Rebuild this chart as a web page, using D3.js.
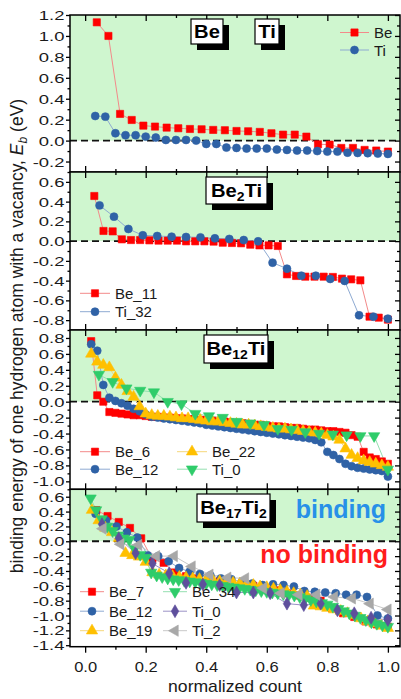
<!DOCTYPE html>
<html>
<head>
<meta charset="utf-8">
<script src="https://cdn.jsdelivr.net/npm/d3@7"></script>
<style>
  body { margin: 0; background: #fff; }
  svg { display: block; font-family: "Liberation Sans", Arial, sans-serif; }
  .axis path, .axis line { stroke: #000; stroke-width: 1.3; }
  .axis text { fill: #1a1a1a; font-family: "Liberation Sans", Arial, sans-serif; }
</style>
</head>
<body>
<svg id="chart" width="401" height="699"></svg>
<script>
// ---- data (binding energies in eV, sorted) ----
// panel 1: Be / Ti
const beTiBe = [1.13, 1.00, 0.255, 0.197, 0.143, 0.134, 0.124, 0.118, 0.111, 0.108, 0.102, 0.099, 0.092,
  0.089, 0.083, 0.070, 0.057, 0.057, 0.038, -0.035, -0.038, -0.070, -0.070, -0.089, -0.095, -0.105];
const beTiTi = [0.235, 0.229, 0.070, 0.051, 0.051, 0.038, 0.029, 0.006, 0.006, 0.006, 0.0, -0.032, -0.032,
  -0.067, -0.070, -0.076, -0.076, -0.076, -0.086, -0.089, -0.095, -0.095, -0.100, -0.105, -0.105, -0.115,
  -0.118, -0.120, -0.124, -0.127];

// panel 2: Be2Ti
const be2TiBe11 = [0.457, 0.103, 0.099, 0.018, 0.011, 0.011, 0.008, 0.005, 0.005, 0.005, -0.002, -0.002,
  -0.002, -0.005, -0.016, -0.019, -0.022, -0.036, -0.043, -0.043, -0.049, -0.336, -0.353, -0.360, -0.360,
  -0.360, -0.363, -0.380, -0.387, -0.397, -0.765, -0.775, -0.795];
const be2TiTi32 = [0.362, 0.248, 0.123, 0.059, 0.052, 0.045, 0.042, 0.038, 0.028, 0.022, 0.011, -0.002,
  -0.218, -0.279, -0.350, -0.350, -0.383, -0.403, -0.751, -0.765, -0.785];

// panel 3: Be12Ti
const be12TiBe6 = [0.76, 0.08, 0.00, -0.13, -0.14, -0.15, -0.16, -0.17, -0.17, -0.18,
  -0.19, -0.19, -0.20, -0.20, -0.21, -0.21, -0.22, -0.22, -0.23, -0.23, -0.24, -0.25, -0.25, -0.26,
  -0.27, -0.27, -0.28, -0.29, -0.29, -0.30, -0.31, -0.31, -0.32, -0.33, -0.33, -0.34, -0.35, -0.35,
  -0.36, -0.37, -0.37, -0.38, -0.39, -0.42, -0.44, -0.63, -0.70, -0.72, -0.75, -0.78];
const be12TiBe12 = [0.72, 0.64, 0.21, 0.05, 0.01, -0.02, -0.05, -0.09, -0.12, -0.16, -0.19,
  -0.20, -0.21, -0.22, -0.23, -0.24, -0.25, -0.26, -0.27, -0.29, -0.30, -0.31, -0.32, -0.33, -0.34,
  -0.35, -0.36, -0.37, -0.38, -0.39, -0.40, -0.41, -0.42, -0.43, -0.44, -0.45, -0.46, -0.48, -0.51,
  -0.63, -0.67, -0.72, -0.78, -0.81, -0.83, -0.84, -0.85, -0.86, -0.87, -0.94];
const be12TiBe22 = [0.60, 0.50, 0.46, 0.43, 0.30, 0.21, 0.13, 0.06, -0.06, -0.15, -0.17,
  -0.18, -0.18, -0.19, -0.20, -0.21, -0.21, -0.22, -0.23, -0.24, -0.25, -0.25, -0.26, -0.27, -0.28,
  -0.29, -0.29, -0.30, -0.31, -0.32, -0.33, -0.34, -0.34, -0.35, -0.36, -0.37, -0.38, -0.39, -0.40,
  -0.42, -0.44, -0.48, -0.59, -0.67, -0.71, -0.74, -0.76, -0.78, -0.80, -0.82];
const be12TiTi0 = [0.34, 0.25, 0.17, 0.14, 0.12, 0.00, -0.03, -0.15, -0.18, -0.20, -0.25, -0.27,
  -0.29, -0.34, -0.35, -0.38, -0.40, -0.41, -0.42, -0.43, -0.43, -0.85];

// panel 4: Be17Ti2
const be17Ti2Be7 = [0.42, 0.34, 0.26, 0.18, 0.04, -0.24, -0.29, -0.42, -0.47, -0.50, -0.52, -0.54,
  -0.56, -0.58, -0.60, -0.63, -0.66, -0.70, -0.73, -0.76, -0.80, -0.90, -0.97, -1.02, -1.08, -1.12, -1.15];
const be17Ti2Be12 = [0.37, 0.28, 0.20, 0.12, 0.05, -0.19, -0.20, -0.27, -0.36, -0.41, -0.44, -0.46,
  -0.50, -0.51, -0.55, -0.57, -0.59, -0.58, -0.59, -0.61, -0.67, -0.68, -0.69, -0.70, -0.72, -0.72,
  -0.75, -1.00, -1.04];
const be17Ti2Be19 = [0.42, 0.28, 0.18, 0.12, 0.04, -0.16, -0.19, -0.21, -0.28, -0.42, -0.45, -0.46,
  -0.47, -0.48, -0.49, -0.50, -0.51, -0.52, -0.53, -0.54, -0.55, -0.56, -0.57, -0.58, -0.59, -0.61,
  -0.62, -0.64, -0.66, -0.68, -0.70, -0.72, -0.74, -0.87, -0.88, -0.90, -0.92, -0.94, -0.97, -1.00,
  -1.04, -1.08, -1.11, -1.14, -1.17];
const be17Ti2Be34 = [0.58, 0.42, 0.30, 0.20, 0.14, 0.08, 0.04, 0.02, -0.10, -0.18, -0.22, -0.42,
  -0.46, -0.48, -0.50, -0.51, -0.52, -0.53, -0.54, -0.55, -0.56, -0.57, -0.58, -0.59, -0.60, -0.61,
  -0.62, -0.63, -0.64, -0.65, -0.66, -0.67, -0.68, -0.69, -0.70, -0.71, -0.72, -0.73, -0.75, -0.77,
  -0.79, -0.81, -0.83, -0.85, -0.88, -0.91, -0.94, -0.97, -1.00, -1.03, -1.06, -1.09, -1.11, -1.13, -1.15];
const be17Ti2Ti0 = [0.23, 0.04, -0.16, -0.30, -0.43, -0.56, -0.58, -0.59, -0.69, -0.69, -0.70, -0.84,
  -0.86, -0.84, -0.93, -0.97, -1.03, -1.06];
const be17Ti2Ti2 = [0.17, -0.04, -0.05, -0.20, -0.20, -0.34, -0.45, -0.49, -0.50, -0.63, -0.70, -0.72,
  -0.72, -0.75, -0.77, -0.84, -0.92];

// axis tick labels
const xTickLabels = ["0.0", "0.2", "0.4", "0.6", "0.8", "1.0"];
const yTicks1 = ["-0.2", "0.0", "0.2", "0.4", "0.6", "0.8", "1.0", "1.2"];
const yTicks2 = ["-0.8", "-0.6", "-0.4", "-0.2", "0.0", "0.2", "0.4", "0.6"];
const yTicks3 = ["-1.0", "-0.8", "-0.6", "-0.4", "-0.2", "0.0", "0.2", "0.4", "0.6", "0.8"];
const yTicks4 = ["-1.4", "-1.2", "-1.0", "-0.8", "-0.6", "-0.4", "-0.2", "0.0", "0.2", "0.4", "0.6"];

// ---- styles per series ----
const style = {
  red:    {fill: "#ff0000", line: "#f38a8a", sym: "square"},
  blue:   {fill: "#2f62a6", line: "#8eaad2", sym: "circle"},
  yellow: {fill: "#ffc000", line: "#f5d77a", sym: "up"},
  green:  {fill: "#2fcc6a", line: "#94dfb0", sym: "down"},
  purple: {fill: "#5e4f9c", line: "#9a91c6", sym: "diamond"},
  gray:   {fill: "#a8a8a8", line: "#c8c8c8", sym: "left"}
};

const symbols = {
  square:  {gen: d3.symbol(d3.symbolSquare, 52), rot: 0},
  circle:  {gen: d3.symbol(d3.symbolCircle, 50), rot: 0},
  up:      {gen: d3.symbol(d3.symbolTriangle, 55), rot: 0},
  down:    {gen: d3.symbol(d3.symbolTriangle, 55), rot: 180},
  diamond: {gen: d3.symbol(d3.symbolDiamond, 48), rot: 0},
  left:    {gen: d3.symbol(d3.symbolTriangle, 55), rot: -90}
};

const left = 70, right = 400;
const xScale = d3.scaleLinear().domain([-0.05, 1.04]).range([left, right]);

const panels = [
  {top: 15, bottom: 172, domain: [-0.3, 1.2], ticks: yTicks1,
   series: [{name: "Be", vals: beTiBe, st: style.red}, {name: "Ti", vals: beTiTi, st: style.blue}],
   legend: {x: 340, y: 32.5, cols: [0], lineW: 29, dy: 17.5}},
  {top: 172, bottom: 330, domain: [-0.9, 0.7], ticks: yTicks2,
   series: [{name: "Be_11", vals: be2TiBe11, st: style.red}, {name: "Ti_32", vals: be2TiTi32, st: style.blue}],
   legend: {x: 80, y: 293.3, cols: [0], lineW: 30, dy: 18.4}},
  {top: 330, bottom: 489.3, domain: [-1.1, 0.9], ticks: yTicks3,
   series: [{name: "Be_6", vals: be12TiBe6, st: style.red}, {name: "Be_12", vals: be12TiBe12, st: style.blue},
            {name: "Be_22", vals: be12TiBe22, st: style.yellow}, {name: "Ti_0", vals: be12TiTi0, st: style.green}],
   legend: {x: 80, y: 451.7, cols: [0, 97], lineW: 30, dy: 17.5, perCol: 2}},
  {top: 489.3, bottom: 646.7, domain: [-1.42, 0.7], ticks: yTicks4,
   series: [{name: "Be_7", vals: be17Ti2Be7, st: style.red}, {name: "Be_12", vals: be17Ti2Be12, st: style.blue},
            {name: "Be_19", vals: be17Ti2Be19, st: style.yellow}, {name: "Be_34", vals: be17Ti2Be34, st: style.green},
            {name: "Ti_0", vals: be17Ti2Ti0, st: style.purple}, {name: "Ti_2", vals: be17Ti2Ti2, st: style.gray}],
   legend: {x: 80, y: 591.7, cols: [0, 83], lineW: 24, dy: 19.5, perCol: 3}}
];

const svg = d3.select("#chart");

function drawMarker(g, st, x, y) {
  const s = symbols[st.sym];
  g.append("path")
    .attr("d", s.gen())
    .attr("transform", `translate(${x},${y}) rotate(${s.rot})`)
    .attr("fill", st.fill)
    .attr("stroke", st.fill)
    .attr("stroke-width", 0.6);
}

const majorX = [0, 0.2, 0.4, 0.6, 0.8, 1.0];
const minorX = [0.1, 0.3, 0.5, 0.7, 0.9];

panels.forEach((p, pi) => {
  const yScale = d3.scaleLinear().domain(p.domain).range([p.bottom, p.top]);
  const g = svg.append("g");

  // green "binding" region above zero
  g.append("rect")
    .attr("x", left).attr("y", p.top)
    .attr("width", right - left).attr("height", yScale(0) - p.top)
    .attr("fill", "#cff6cf");

  // zero line
  g.append("line")
    .attr("x1", left).attr("x2", right)
    .attr("y1", yScale(0)).attr("y2", yScale(0))
    .attr("stroke", "#111").attr("stroke-width", 1.8)
    .attr("stroke-dasharray", "7,4");

  // series
  p.series.forEach(s => {
    const pts = s.vals.map((v, i) => [(i + 1) / s.vals.length, v]);
    g.append("path")
      .attr("d", d3.line().x(d => xScale(d[0])).y(d => yScale(d[1]))(pts))
      .attr("fill", "none")
      .attr("stroke", s.st.line)
      .attr("stroke-width", 1);
  });
  p.series.forEach(s => {
    const pts = s.vals.map((v, i) => [(i + 1) / s.vals.length, v]);
    pts.forEach(d => drawMarker(g, s.st, xScale(d[0]), yScale(d[1])));
  });

  // frame
  g.append("rect")
    .attr("x", left).attr("y", p.top)
    .attr("width", right - left).attr("height", p.bottom - p.top)
    .attr("fill", "none").attr("stroke", "#000").attr("stroke-width", 1.5);

  // y axes
  const yMajor = p.ticks.map(Number);
  const yMinor = yMajor.map(v => v + 0.1).filter(v => v < p.domain[1]);
  if (p.domain[0] < yMajor[0] - 0.1 + 1e-9) yMinor.push(yMajor[0] - 0.1);

  g.append("g").attr("class", "axis").attr("transform", `translate(${left},0)`)
    .call(d3.axisLeft(yScale).tickValues(yMajor).tickSize(4).tickPadding(1.5)
      .tickFormat((d, i) => p.ticks[i]))
    .call(a => a.select(".domain").remove())
    .call(a => a.selectAll("text")
      .attr("x", null).attr("dy", "0.35em")
      .attr("font-size", 13)
      .attr("transform", "translate(-5.5,0) scale(1.42,1)"));
  g.append("g").attr("class", "axis").attr("transform", `translate(${left},0)`)
    .call(d3.axisLeft(yScale).tickValues(yMinor).tickSize(2.5).tickFormat(""))
    .call(a => a.select(".domain").remove());
  g.append("g").attr("class", "axis").attr("transform", `translate(${right},0)`)
    .call(d3.axisRight(yScale).tickValues(yMajor).tickSize(-5).tickFormat(""))
    .call(a => a.select(".domain").remove());
  g.append("g").attr("class", "axis").attr("transform", `translate(${right},0)`)
    .call(d3.axisRight(yScale).tickValues(yMinor).tickSize(-3).tickFormat(""))
    .call(a => a.select(".domain").remove());

  // x ticks on top (inward) and bottom
  g.append("g").attr("class", "axis").attr("transform", `translate(0,${p.top})`)
    .call(d3.axisTop(xScale).tickValues(majorX).tickSize(-6).tickFormat(""))
    .call(a => a.select(".domain").remove());
  g.append("g").attr("class", "axis").attr("transform", `translate(0,${p.top})`)
    .call(d3.axisTop(xScale).tickValues(minorX).tickSize(-3).tickFormat(""))
    .call(a => a.select(".domain").remove());
  const last = pi === panels.length - 1;
  g.append("g").attr("class", "axis").attr("transform", `translate(0,${p.bottom})`)
    .call(d3.axisBottom(xScale).tickValues(majorX).tickSize(last ? 6 : -6).tickFormat((d, i) => last ? xTickLabels[i] : ""))
    .call(a => a.select(".domain").remove())
    .call(a => a.selectAll("text")
      .attr("y", null).attr("dy", null)
      .attr("font-size", 14)
      .attr("transform", "translate(0,25) scale(1.18,1)"));
  g.append("g").attr("class", "axis").attr("transform", `translate(0,${p.bottom})`)
    .call(d3.axisBottom(xScale).tickValues(minorX).tickSize(last ? 3 : -3).tickFormat(""))
    .call(a => a.select(".domain").remove());

  // legend
  const L = p.legend;
  const perCol = L.perCol || p.series.length;
  p.series.forEach((s, i) => {
    const col = Math.floor(i / perCol), row = i % perCol;
    const lx = L.x + L.cols[col], ly = L.y + row * L.dy;
    g.append("line")
      .attr("x1", lx).attr("x2", lx + L.lineW)
      .attr("y1", ly).attr("y2", ly)
      .attr("stroke", s.st.line).attr("stroke-width", 1);
    drawMarker(g, s.st, lx + L.lineW / 2, ly);
    g.append("text")
      .attr("x", lx + L.lineW + 5).attr("y", ly + 5.5)
      .attr("font-size", 15).attr("fill", "#1a1a1a")
      .text(s.name);
  });
});

// title boxes with drop shadow
function titleBox(x, y, w, h, parts) {
  svg.append("rect").attr("x", x + 6).attr("y", y + 6).attr("width", w).attr("height", h).attr("fill", "#000");
  svg.append("rect").attr("x", x).attr("y", y).attr("width", w).attr("height", h)
    .attr("fill", "#fff").attr("stroke", "#000").attr("stroke-width", 1.2);
  const t = svg.append("text")
    .attr("transform", `translate(${x + w / 2},${y + h / 2 + 6}) scale(1.12,1)`)
    .attr("text-anchor", "middle")
    .attr("font-size", 18).attr("font-weight", "bold").attr("fill", "#000");
  let down = false;
  parts.forEach(([txt, sub]) => {
    const ts = t.append("tspan").text(txt);
    if (sub && !down) { ts.attr("dy", 4).attr("font-size", 12.5); down = true; }
    else if (sub) ts.attr("font-size", 12.5);
    else if (down) { ts.attr("dy", -4); down = false; }
  });
}
titleBox(191, 19, 32, 25, [["Be"]]);
titleBox(255, 19, 24, 25, [["Ti"]]);
titleBox(206, 177, 61, 27, [["Be"], ["2", true], ["Ti"]]);
titleBox(204, 335, 64, 28, [["Be"], ["12", true], ["Ti"]]);
titleBox(197, 494, 73, 28, [["Be"], ["17", true], ["Ti"], ["2", true]]);

// binding / no binding annotations
svg.append("text").attr("x", 386).attr("y", 518).attr("text-anchor", "end")
  .attr("font-size", 25).attr("font-weight", "bold").attr("fill", "#2790e8").text("binding");
svg.append("text").attr("x", 388).attr("y", 563).attr("text-anchor", "end")
  .attr("font-size", 25).attr("font-weight", "bold").attr("fill", "#ff1c1c").text("no binding");

// axis titles
svg.append("text")
  .attr("transform", `translate(${(left + right) / 2},692) scale(1.1,1)`)
  .attr("text-anchor", "middle").attr("font-size", 16).attr("fill", "#1a1a1a")
  .text("normalized count");
const yl = svg.append("text")
  .attr("transform", "translate(23,336) rotate(-90)")
  .attr("text-anchor", "middle").attr("font-size", 17.5).attr("fill", "#1a1a1a");
yl.append("tspan").text("binding energy of one hydrogen atom with a vacancy, ");
yl.append("tspan").attr("font-style", "italic").text("E");
yl.append("tspan").attr("font-size", 12).attr("font-style", "italic").attr("dy", 4).text("b");
yl.append("tspan").attr("dy", -4).text(" (eV)");
</script>
</body>
</html>
